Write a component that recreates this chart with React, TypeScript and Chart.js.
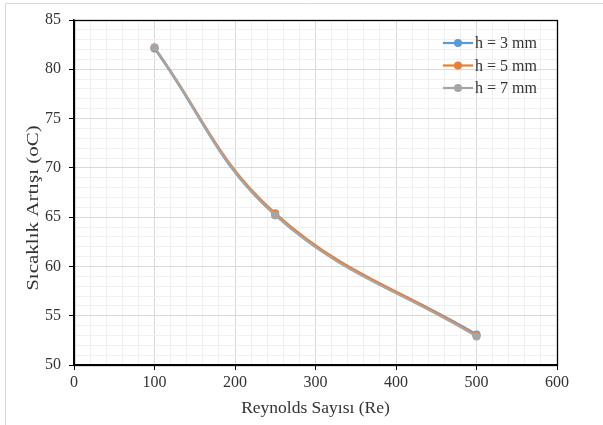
import React, { useEffect, useRef } from "react";
import { Chart, registerables } from "chart.js";

Chart.register(...registerables);

const reynolds = [100, 250, 500];
const seriesLabels = ["h = 3 mm", "h = 5 mm", "h = 7 mm"];
const h3 = [82.1, 65.2, 53.1];
const h5 = [82.2, 65.4, 53.0];
const h7 = [82.2, 65.2, 52.9];
const colors = ["#5B9BD5", "#ED7D31", "#A5A5A5"];
const xTitle = "Reynolds Sayısı (Re)";
const yTitle = "Sıcaklık Artışı (oC)";

const FONT = "'Liberation Serif', 'Times New Roman', serif";
const TEXT = "#333333";

const framePlugin = {
  id: "frame",
  beforeDraw(chart: any) {
    const ctx = chart.ctx;
    ctx.save();
    ctx.strokeStyle = "#d9d9d9";
    ctx.lineWidth = 1;
    ctx.beginPath();
    ctx.moveTo(5.5, 425);
    ctx.lineTo(5.5, 3.5);
    ctx.lineTo(603, 3.5);
    ctx.stroke();
    ctx.restore();
  },
  beforeDatasetsDraw(chart: any) {
    const { ctx, chartArea } = chart;
    ctx.save();
    ctx.strokeStyle = "#000";
    ctx.lineWidth = 1.3;
    ctx.strokeRect(
      Math.round(chartArea.left) + 0.5,
      Math.round(chartArea.top) + 0.5,
      Math.round(chartArea.right - chartArea.left),
      Math.round(chartArea.bottom - chartArea.top)
    );
    ctx.restore();
  },
  afterDraw(chart: any) {
    const ctx = chart.ctx;
    const ds = chart.data.datasets;
    ctx.save();
    ctx.font = `16px ${FONT}`;
    ctx.textBaseline = "middle";
    ctx.textAlign = "left";
    const rows = [43, 65.5, 88];
    for (let i = 0; i < ds.length; i++) {
      const y = rows[i];
      ctx.strokeStyle = ds[i].borderColor;
      ctx.lineWidth = 2.2;
      ctx.beginPath();
      ctx.moveTo(443, y);
      ctx.lineTo(473, y);
      ctx.stroke();
      ctx.fillStyle = ds[i].borderColor;
      ctx.beginPath();
      ctx.arc(458, y, 4, 0, Math.PI * 2);
      ctx.fill();
      ctx.fillStyle = TEXT;
      ctx.fillText(ds[i].label, 475, y + 1);
    }
    ctx.restore();

    // y-axis title (slightly stretched along its length, as in the reference)
    ctx.save();
    ctx.translate(33, 208);
    ctx.rotate(-Math.PI / 2);
    ctx.scale(1.2, 1);
    ctx.font = `17.5px ${FONT}`;
    ctx.fillStyle = TEXT;
    ctx.textAlign = "center";
    ctx.textBaseline = "middle";
    ctx.fillText(yTitle, 0, 0);
    ctx.restore();
  },
};

export default function App() {
  const ref = useRef<HTMLCanvasElement>(null);

  useEffect(() => {
    if (!ref.current) return;
    const series = [h3, h5, h7];
    const chart = new Chart(ref.current, {
      type: "line",
      data: {
        datasets: series.map((vals, i) => ({
          label: seriesLabels[i],
          data: reynolds.map((x, j) => ({ x, y: vals[j] })),
          borderColor: colors[i],
          backgroundColor: colors[i],
          pointBackgroundColor: colors[i],
          pointBorderColor: colors[i],
          borderWidth: 2.2,
          pointRadius: 4,
          pointBorderWidth: 0,
          tension: 0.4,
          order: 3 - i,
        })),
      },
      options: {
        animation: false,
        responsive: false,
        layout: { padding: { top: 20, right: 46, left: 0, bottom: 0 } },
        plugins: { legend: { display: false }, tooltip: { enabled: false } },
        scales: {
          x: {
            type: "linear",
            min: 0,
            max: 600,
            afterFit: (s: any) => {
              s.height = 60;
            },
            ticks: {
              stepSize: 20,
              autoSkip: false,
              maxRotation: 0,
              padding: 3,
              color: TEXT,
              font: { family: FONT, size: 16 },
              callback: (v: any) => (Number(v) % 100 === 0 ? String(v) : ""),
            },
            grid: {
              color: (c: any) => (c.tick && c.tick.value % 100 === 0 ? "#d9d9d9" : "#f0f0f0"),
              tickColor: (c: any) => (c.tick && c.tick.value % 100 === 0 ? "#000" : "rgba(0,0,0,0)"),
              tickLength: 5,
              lineWidth: 1,
            },
            border: { color: "#000", width: 1.3 },
            title: {
              display: true,
              text: xTitle,
              color: TEXT,
              font: { family: FONT, size: 17.5 },
              padding: { top: 0, bottom: 6 },
            },
          },
          y: {
            type: "linear",
            min: 50,
            max: 85,
            afterFit: (s: any) => {
              s.width = 74;
            },
            ticks: {
              stepSize: 1,
              autoSkip: false,
              padding: 8,
              color: TEXT,
              font: { family: FONT, size: 16 },
              callback: (v: any) => (Number(v) % 5 === 0 ? String(v) : ""),
            },
            grid: {
              color: (c: any) => (c.tick && c.tick.value % 5 === 0 ? "#d9d9d9" : "#f0f0f0"),
              tickColor: (c: any) => (c.tick && c.tick.value % 5 === 0 ? "#000" : "rgba(0,0,0,0)"),
              tickLength: 5,
              lineWidth: 1,
            },
            border: { color: "#000", width: 1.3 },
            title: { display: false, text: yTitle },
          },
        },
      },
      plugins: [framePlugin],
    });
    return () => chart.destroy();
  }, []);

  return (
    <div style={{ position: "absolute", left: 0, top: 0, width: 603, height: 425, background: "#fff" }}>
      <canvas ref={ref} width={603} height={425} style={{ display: "block", width: 603, height: 425 }} />
    </div>
  );
}
